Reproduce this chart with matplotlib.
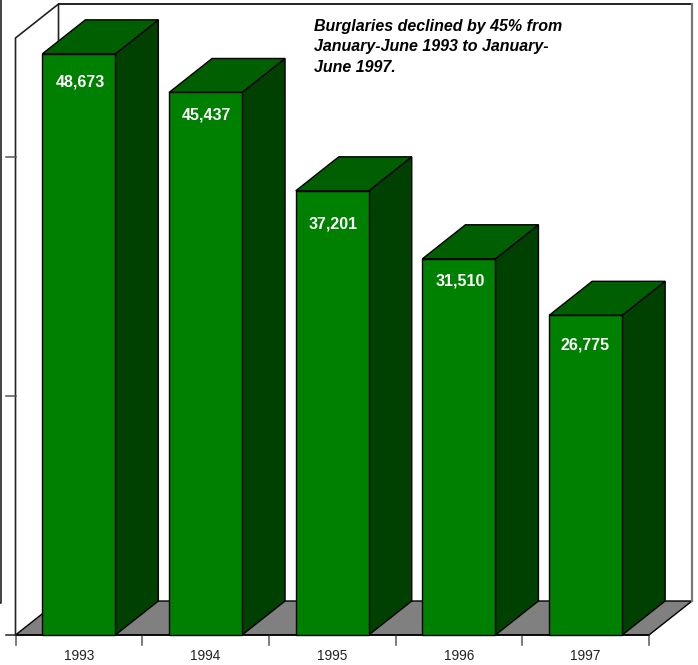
import matplotlib
matplotlib.use("Agg")
import matplotlib.pyplot as plt
from matplotlib.patches import Polygon, Rectangle

years = ["1993", "1994", "1995", "1996", "1997"]
burglaries = [48673, 45437, 37201, 31510, 26775]
y_ticks = [0, 20000, 40000]
y_max = 50000
note = "Burglaries declined by 45% from\nJanuary-June 1993 to January-\nJune 1997."
label_drop_px = [28, 23, 33, 22, 30]
label_shift_px = [1.2, 1.2, 1.2, 1.2, -0.6]

W, H = 698, 665
plt.rcParams["font.family"] = ["Liberation Sans", "DejaVu Sans"]
fig = plt.figure(figsize=(W / 100, H / 100), dpi=100, facecolor="white")
L, R, B, T = 15.5, 649.0, 635.0, 38.0
ax = fig.add_axes([L / W, 1 - B / H, (R - L) / W, (B - T) / H])
n = len(years)
ax.set_xlim(0, n)
ax.set_ylim(0, y_max)
ax.axis("off")
px = n / (R - L)
py = y_max / (B - T)
dx, dy = 43 * px, 34 * py
bar_w = 73 * px

EDGE = "#000000"
FRONT, TOP, SIDE = "#008000", "#005f00", "#004000"
GREY = "#808080"
LW = 1.0

def poly(pts, fc="none", ec=EDGE, lw=LW, z=1):
    ax.add_patch(Polygon(pts, closed=True, facecolor=fc, edgecolor=ec, linewidth=lw,
                         zorder=z, clip_on=False, joinstyle="miter"))

# floor
poly([(0, 0), (n, 0), (n + dx, dy), (dx, dy)], fc=GREY, z=1)
# walls
ax.plot([0, 0, dx, dx], [0, y_max, y_max + dy, dy], color="#222222", lw=1.2, zorder=1.5, clip_on=False)
ax.plot([dx, n + dx], [y_max + dy, y_max + dy], color="#111111", lw=1.3, zorder=1.5, clip_on=False)
ax.plot([n + dx, n + dx], [y_max + dy, dy], color="#777777", lw=1.6, zorder=1.5, clip_on=False)

# outer strip at the far left
ax.plot([-14 * px, -14 * px, -18 * px], [y_max * 1.07, 32 * py, 32 * py], color="#222222", lw=1.2,
        zorder=1.5, clip_on=False)

# ticks
for v in y_ticks:
    ax.plot([-9 * px, 0], [v, v], color="#555555" if v else "#222222", lw=1.1, zorder=1.5, clip_on=False)
for i in range(n + 1):
    ax.plot([i, i], [0, -10 * py], color="#666666", lw=1.2, zorder=1.5, clip_on=False)
ax.plot([0, n], [0, 0], color="#000000", lw=1.1, zorder=2, clip_on=False)

# bars
for i, (yr, v, drop, shift) in enumerate(zip(years, burglaries, label_drop_px, label_shift_px)):
    x0 = i + 0.5 - bar_w / 2
    x1 = x0 + bar_w
    z = 3 + i
    poly([(x1, 0), (x1 + dx, dy), (x1 + dx, v + dy), (x1, v)], fc=SIDE, z=z)
    poly([(x0, v), (x1, v), (x1 + dx, v + dy), (x0 + dx, v + dy)], fc=TOP, z=z)
    ax.add_patch(Rectangle((x0, 0), bar_w, v, facecolor=FRONT, edgecolor=EDGE, linewidth=LW,
                           zorder=z + 0.1, clip_on=False))
    ax.text(i + 0.5 + shift * px, v - drop * py, f"{v:,}", color="white", ha="center", va="center",
            fontsize=11.5, fontweight="bold", zorder=20)
    ax.text(i + 0.5, -21.5 * py, yr, color="#222222", ha="center", va="center", fontsize=9.8,
            clip_on=False)

fig.text(314 / W, 1 - 47 / H, note, ha="left", va="center", fontsize=11.5, fontweight="bold",
         fontstyle="italic", color="black", linespacing=1.5, zorder=30)

fig.savefig("out.png", dpi=100, facecolor="white")
